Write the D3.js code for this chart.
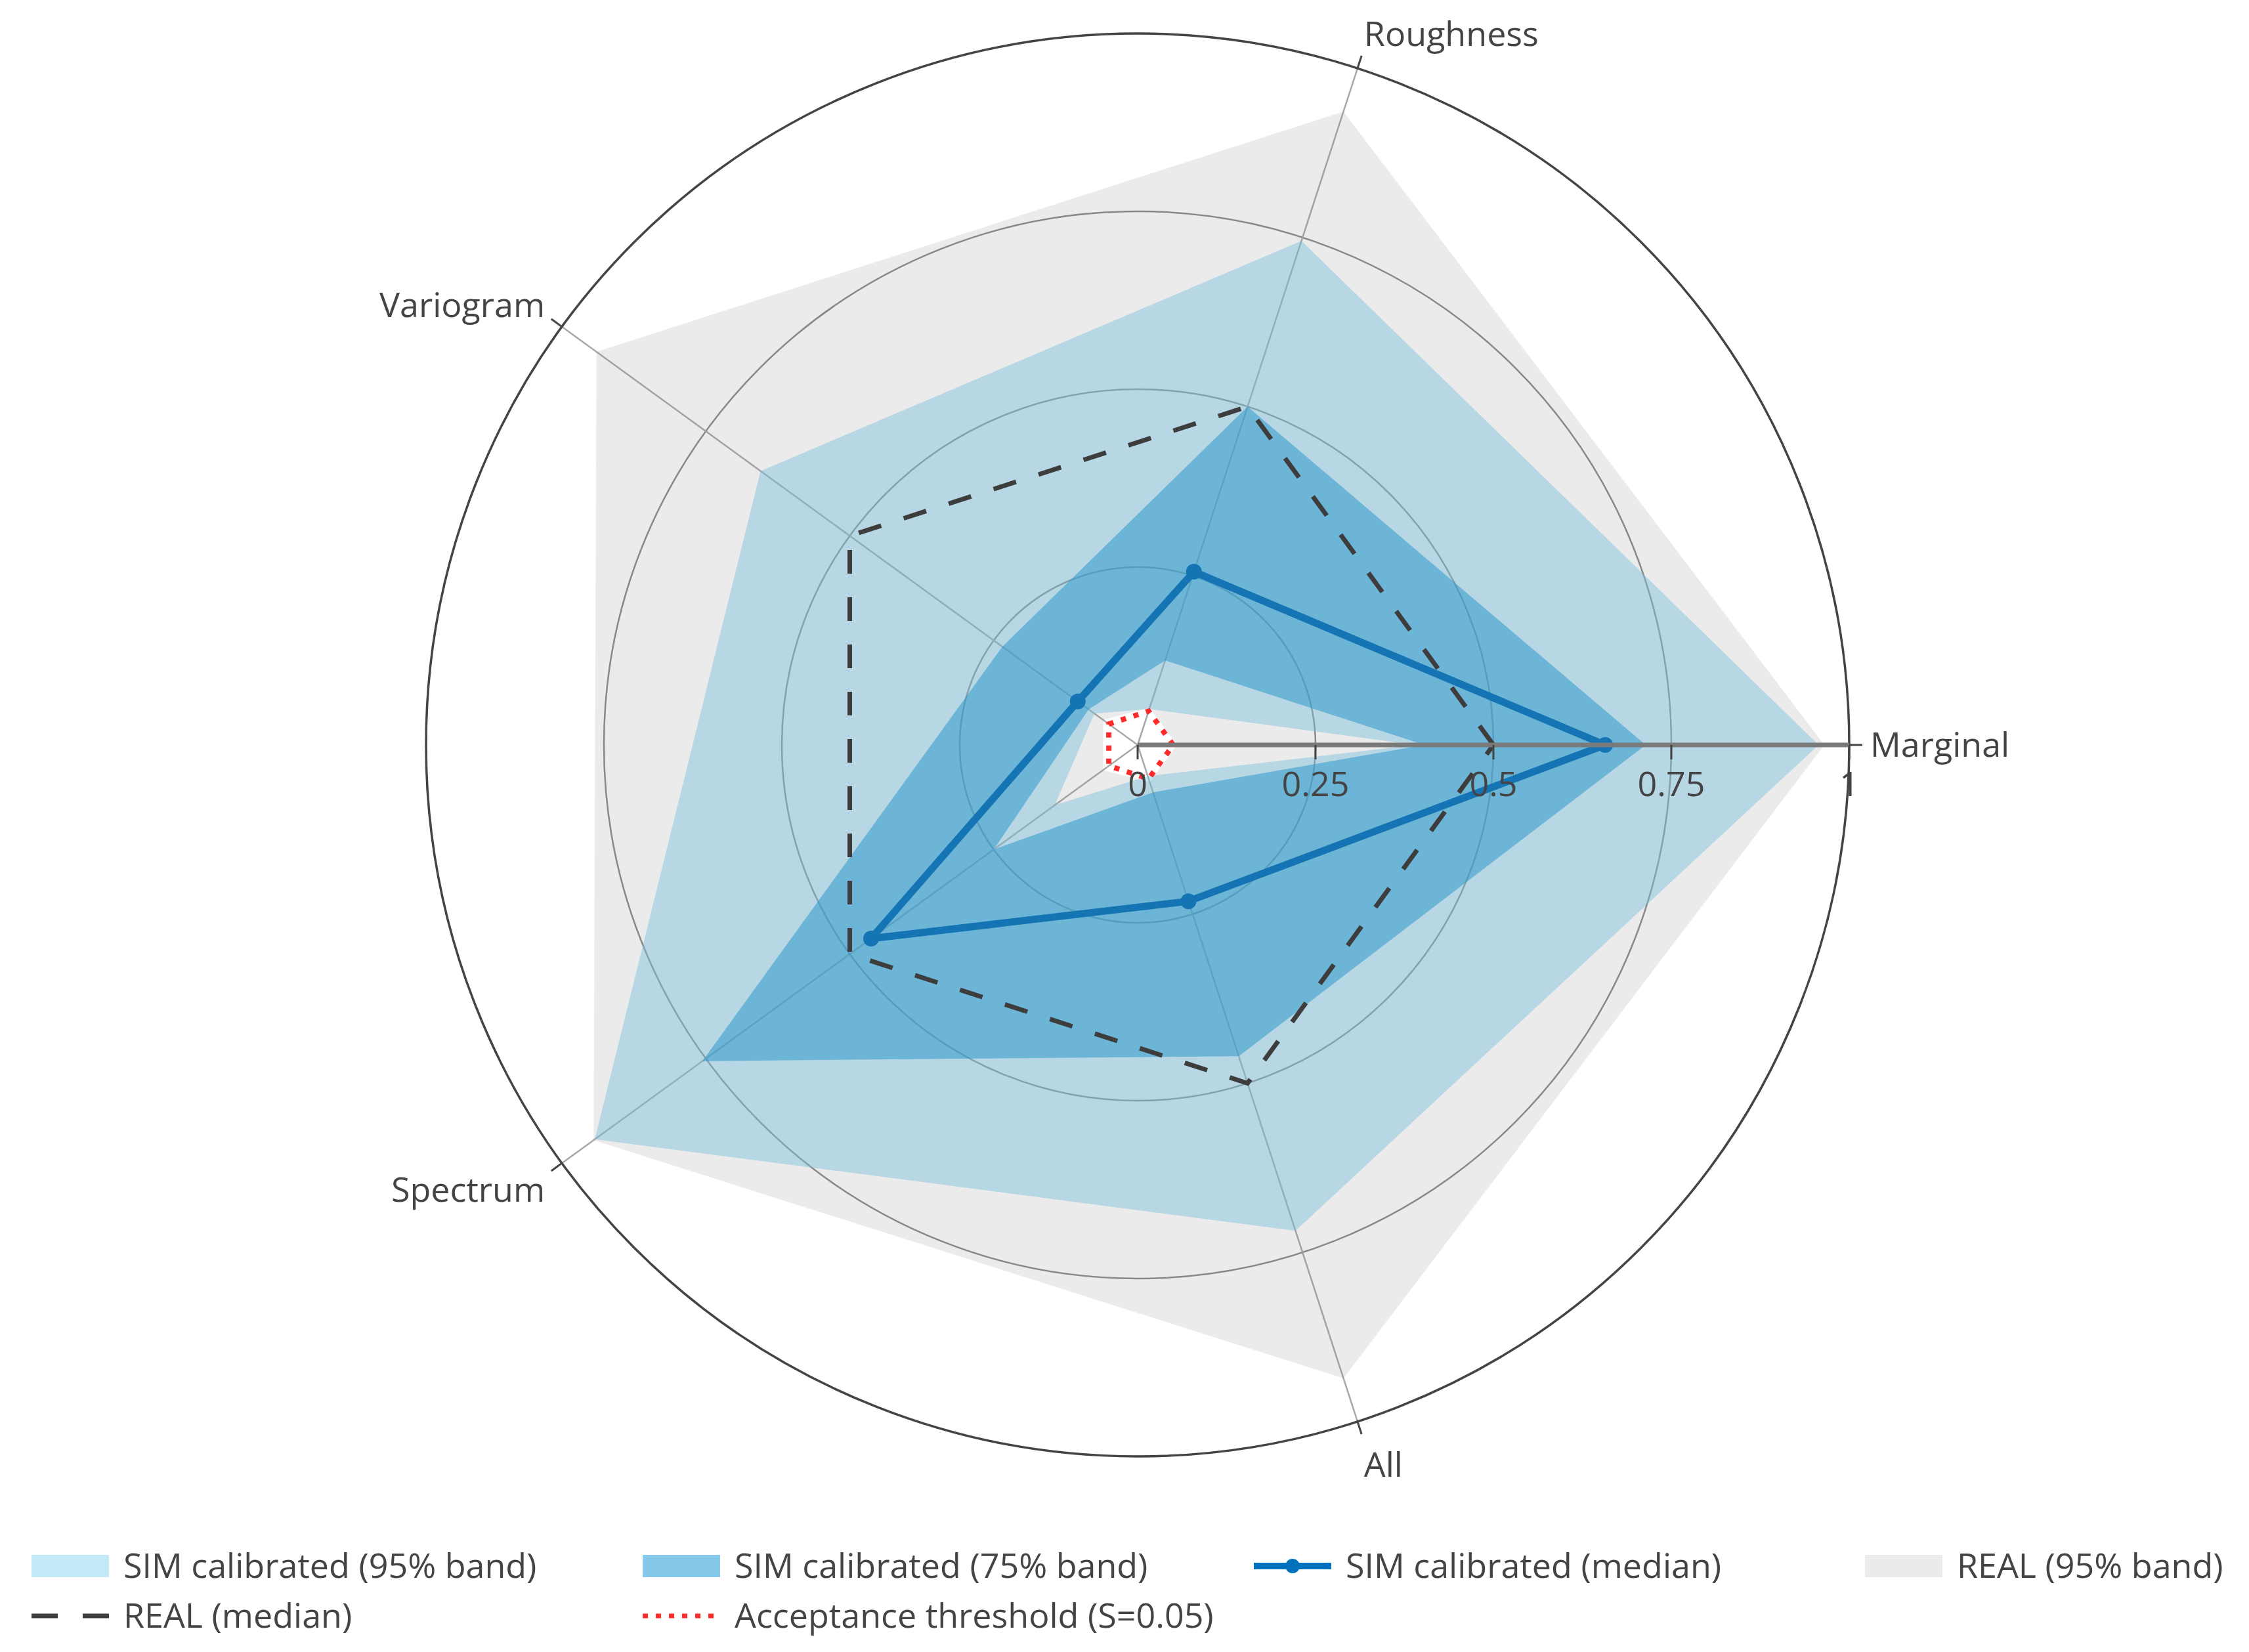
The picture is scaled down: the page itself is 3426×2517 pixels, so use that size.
<!DOCTYPE html>
<html>
<head>
<meta charset="utf-8">
<script src="https://cdn.jsdelivr.net/npm/d3@7"></script>
<style>
html, body { margin: 0; padding: 0; background: #fff; }
svg text { font-family: "Open Sans", "Noto Sans", sans-serif; fill: #444; }
</style>
</head>
<body>
<svg id="chart" width="3426" height="2517"></svg>
<script>
// categories (counterclockwise from east)
var axes = ["Marginal", "Roughness", "Variogram", "Spectrum", "All"];
var radialTicks = [0, 0.25, 0.5, 0.75, 1];
var radialTickLabels = ["0", "0.25", "0.5", "0.75", "1"];

// series values, one per axis
var sim95Upper = [0.957, 0.745, 0.655, 0.943, 0.718];
var sim95Lower = [0.39, 0.053, 0.075, 0.144, 0.046];
var sim75Upper = [0.714, 0.5, 0.235, 0.756, 0.46];
var sim75Lower = [0.403, 0.125, 0.085, 0.25, 0.07];
var simMedian = [0.657, 0.256, 0.104, 0.463, 0.231];
var real95Upper = [0.965, 0.936, 0.94, 0.945, 0.936];
var real95Lower = [0.055, 0.055, 0.06, 0.06, 0.055];
var realMedian = [0.5, 0.5, 0.5, 0.5, 0.5];
var threshold = [0.05, 0.05, 0.05, 0.05, 0.05];

var legendNames = ["SIM calibrated (95% band)", "SIM calibrated (75% band)", "SIM calibrated (median)",
                   "REAL (95% band)", "REAL (median)", "Acceptance threshold (S=0.05)"];

var cx = 1733, cy = 1135, R = 1084;
var fontSize = 52;

var svg = d3.select("#chart");

var rScale = d3.scaleLinear().domain([0, 1]).range([0, R]);
var angleScale = d3.scaleLinear().domain([0, axes.length]).range([0, 2 * Math.PI]);

function px(v, i) { return cx + rScale(v) * Math.cos(angleScale(i)); }
function py(v, i) { return cy - rScale(v) * Math.sin(angleScale(i)); }

var radial = d3.lineRadial()
	.angle(function(d, i) { return Math.PI / 2 - angleScale(i); })
	.radius(function(d) { return rScale(d); })
	.curve(d3.curveLinearClosed);

var plot = svg.append("g").attr("transform", "translate(" + cx + "," + cy + ")");

// grid circles + spokes (below traces)
plot.selectAll("circle.grid")
	.data(radialTicks.filter(function(t) { return t > 0 && t < 1; }))
	.enter().append("circle")
	.attr("class", "grid")
	.attr("r", function(d) { return rScale(d); })
	.style("fill", "none")
	.style("stroke", "#8a8a8a")
	.style("stroke-width", 2.5);

plot.selectAll("line.spoke")
	.data(axes).enter()
	.append("line")
	.attr("class", "spoke")
	.attr("x1", 0).attr("y1", 0)
	.attr("x2", function(d, i) { return px(1, i) - cx; })
	.attr("y2", function(d, i) { return py(1, i) - cy; })
	.style("stroke", "#a8a8a8")
	.style("stroke-width", 2.5);

// bands (outer ring + inner hole)
function band(upper, lower, color, opacity) {
	plot.append("path")
		.attr("d", radial(upper) + radial(lower))
		.style("fill", color)
		.style("fill-opacity", opacity)
		.style("fill-rule", "evenodd")
		.style("stroke", "none");
}

band(sim95Upper, sim95Lower, "rgb(122,204,239)", 0.45);
band(sim75Upper, sim75Lower, "rgb(31,157,215)", 0.55);

plot.append("path")
	.attr("d", radial(simMedian))
	.style("fill", "none")
	.style("stroke", "#0072bd")
	.style("stroke-width", 11)
	.style("stroke-linejoin", "round");

plot.selectAll("circle.medDot")
	.data(simMedian).enter()
	.append("circle")
	.attr("class", "medDot")
	.attr("cx", function(d, i) { return px(d, i) - cx; })
	.attr("cy", function(d, i) { return py(d, i) - cy; })
	.attr("r", 12)
	.style("fill", "#0072bd");

band(real95Upper, real95Lower, "rgb(128,128,128)", 0.16);

plot.append("path")
	.attr("d", radial(realMedian))
	.style("fill", "none")
	.style("stroke", "#3d3d3d")
	.style("stroke-width", 7)
	.style("stroke-dasharray", "36,36");

plot.append("path")
	.attr("d", radial(threshold))
	.style("fill", "none")
	.style("stroke", "#ff2a2a")
	.style("stroke-width", 8)
	.style("stroke-dasharray", "8,12");

// angular axis (outer circle, ticks, labels)
plot.append("circle")
	.attr("r", R)
	.style("fill", "none")
	.style("stroke", "#444")
	.style("stroke-width", 3.5);

plot.selectAll("line.atick")
	.data(axes).enter()
	.append("line")
	.attr("class", "atick")
	.attr("x1", function(d, i) { return px(1, i) - cx; })
	.attr("y1", function(d, i) { return py(1, i) - cy; })
	.attr("x2", function(d, i) { return (R + 20) * Math.cos(angleScale(i)); })
	.attr("y2", function(d, i) { return -(R + 20) * Math.sin(angleScale(i)); })
	.style("stroke", "#444")
	.style("stroke-width", 3);

plot.selectAll("text.alabel")
	.data(axes).enter()
	.append("text")
	.attr("class", "alabel")
	.attr("x", function(d, i) { return (R + 32) * Math.cos(angleScale(i)); })
	.attr("y", function(d, i) {
		var s = Math.sin(angleScale(i));
		var y = -(R + 32) * s;
		return y + fontSize * 0.35 - s * fontSize * (s > 0 ? 0.45 : 0.72);
	})
	.attr("text-anchor", function(d, i) {
		var c = Math.cos(angleScale(i));
		return c > 0.1 ? "start" : (c < -0.1 ? "end" : "middle");
	})
	.style("font-size", fontSize + "px")
	.text(function(d) { return d; });

// radial axis (drawn above traces)
plot.append("line")
	.attr("x1", 0).attr("y1", 0)
	.attr("x2", rScale(1)).attr("y2", 0)
	.style("stroke", "#7a7a7a")
	.style("stroke-width", 7);

plot.selectAll("line.rtick")
	.data(radialTicks).enter()
	.append("line")
	.attr("class", "rtick")
	.attr("x1", function(d) { return rScale(d); })
	.attr("x2", function(d) { return rScale(d); })
	.attr("y1", 0).attr("y2", 22)
	.style("stroke", "#444")
	.style("stroke-width", 3);

plot.selectAll("text.rlabel")
	.data(radialTicks).enter()
	.append("text")
	.attr("class", "rlabel")
	.attr("x", function(d) { return rScale(d); })
	.attr("y", 78)
	.attr("text-anchor", "middle")
	.style("font-size", fontSize + "px")
	.text(function(d, i) { return radialTickLabels[i]; });

// legend
var legendKinds = ["band95", "band75", "median", "bandReal", "dash", "dot"];
var legend = svg.append("g");
var colW = 931, rowH = 76, x0 = 48, y0 = 2386, swW = 118;

legendNames.forEach(function(name, i) {
	var col = i < 4 ? i : i - 4;
	var row = i < 4 ? 0 : 1;
	var g = legend.append("g")
		.attr("transform", "translate(" + (x0 + col * colW) + "," + (y0 + row * rowH) + ")");
	var kind = legendKinds[i];
	if (kind === "band95" || kind === "band75" || kind === "bandReal") {
		var fill = kind === "band95" ? ["rgb(122,204,239)", 0.45]
			: kind === "band75" ? ["rgb(31,157,215)", 0.55] : ["rgb(128,128,128)", 0.16];
		g.append("rect")
			.attr("x", 0).attr("y", -17)
			.attr("width", swW).attr("height", 34)
			.style("fill", fill[0])
			.style("fill-opacity", fill[1]);
	} else if (kind === "median") {
		g.append("line")
			.attr("x1", 0).attr("x2", swW).attr("y1", 0).attr("y2", 0)
			.style("stroke", "#0072bd").style("stroke-width", 10);
		g.append("circle")
			.attr("cx", swW / 2).attr("cy", 0).attr("r", 11)
			.style("fill", "#0072bd");
	} else if (kind === "dash") {
		g.append("line")
			.attr("x1", 0).attr("x2", swW).attr("y1", 0).attr("y2", 0)
			.style("stroke", "#3d3d3d").style("stroke-width", 7)
			.style("stroke-dasharray", "40,38");
	} else {
		g.append("line")
			.attr("x1", 0).attr("x2", swW).attr("y1", 0).attr("y2", 0)
			.style("stroke", "#ff2a2a").style("stroke-width", 7)
			.style("stroke-dasharray", "8,12");
	}
	g.append("text")
		.attr("x", 140)
		.attr("y", fontSize * 0.35)
		.style("font-size", fontSize + "px")
		.text(name);
});
</script>
</body>
</html>
